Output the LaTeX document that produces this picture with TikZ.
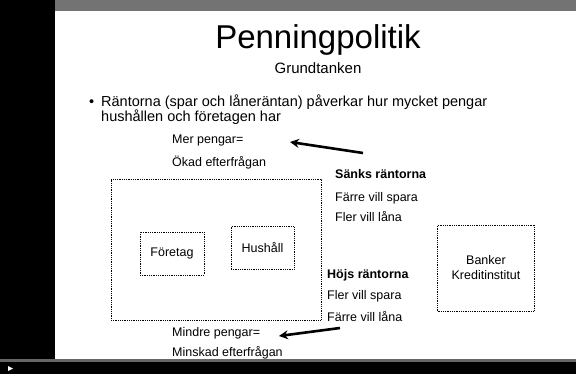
\documentclass[tikz,border=0pt]{standalone}
\usepackage{fontspec}
\setmainfont{Liberation Sans}
\usetikzlibrary{arrows.meta}
\tikzset{
  lbl/.style={anchor=base west, inner sep=0pt, font=\fontsize{12.5}{14}\selectfont},
  hdr/.style={lbl, font=\fontsize{12.5}{14}\selectfont\bfseries},
  btxt/.style={anchor=base west, inner sep=0pt, font=\fontsize{14.5}{15}\selectfont},
  dotbox/.style={draw, densely dotted, line width=0.8pt, inner sep=0pt, align=center, font=\fontsize{12.5}{15}\selectfont},
  fatarrow/.style={line width=2.6pt, -{Stealth[length=9pt,width=9pt]}},
}
\begin{document}
\begin{tikzpicture}[x=1pt,y=-1pt]
\useasboundingbox (0,0) rectangle (576,374);
% frame of the slide viewer
\fill[white] (0,0) rectangle (576,374);
\fill[black!55] (55,0) rectangle (576,11);
\fill[black] (0,0) rectangle (55,374);
\fill[black!60] (0,359) rectangle (576,362);
\fill[black] (0,362) rectangle (576,374);
\fill[white] (8,366) -- (13,368.5) -- (8,371) -- cycle;
% title
\node[anchor=base, inner sep=0pt, font=\fontsize{33}{36}\selectfont] (title) at (318,49) {Penningpolitik};
\node[anchor=base, inner sep=0pt, font=\fontsize{15}{17}\selectfont] (sub) at (318,74) {Grundtanken};
% bullet
\node[btxt] (bul) at (89,107) {•};
\node[btxt] (btext1) at (101,107) {Räntorna (spar och låneräntan) påverkar hur mycket pengar};
\node[btxt] (btext2) at (101,122) {hushållen och företagen har};
% upper texts
\node[lbl] (mer) at (172,144) {Mer pengar=};
\node[lbl] (okad) at (172,167) {Ökad efterfrågan};
\node[hdr] (sanks) at (335,179) {Sänks räntorna};
\node[lbl] (farre1) at (335,202) {Färre vill spara};
\node[lbl] (fler1) at (335,222) {Fler vill låna};
% lower texts
\node[hdr] (hojs) at (327,279) {Höjs räntorna};
\node[lbl] (fler2) at (327,300) {Fler vill spara};
\node[lbl] (farre2) at (327,322) {Färre vill låna};
\node[lbl] (mindre) at (172,337) {Mindre pengar=};
\node[lbl] (minskad) at (172,356) {Minskad efterfrågan};
% boxes
\node[dotbox, minimum width=210pt, minimum height=141pt] (big) at (216,249.5) {};
\node[dotbox, minimum width=64pt, minimum height=43pt] (foretag) at (172,253.5) {Företag};
\node[dotbox, minimum width=63pt, minimum height=43pt] (hushall) at (262.5,248) {Hushåll};
\node[dotbox, minimum width=97pt, minimum height=86pt] (banker) at (486,268) {Banker\\Kreditinstitut};
% arrows
\coordinate (a1s) at (363,153);
\coordinate (a1e) at (290,142);
\coordinate (a2s) at (340,328);
\coordinate (a2e) at (279,336);
\draw[fatarrow] (a1s) -- (a1e);
\draw[fatarrow] (a2s) -- (a2e);
\end{tikzpicture}
\end{document}
